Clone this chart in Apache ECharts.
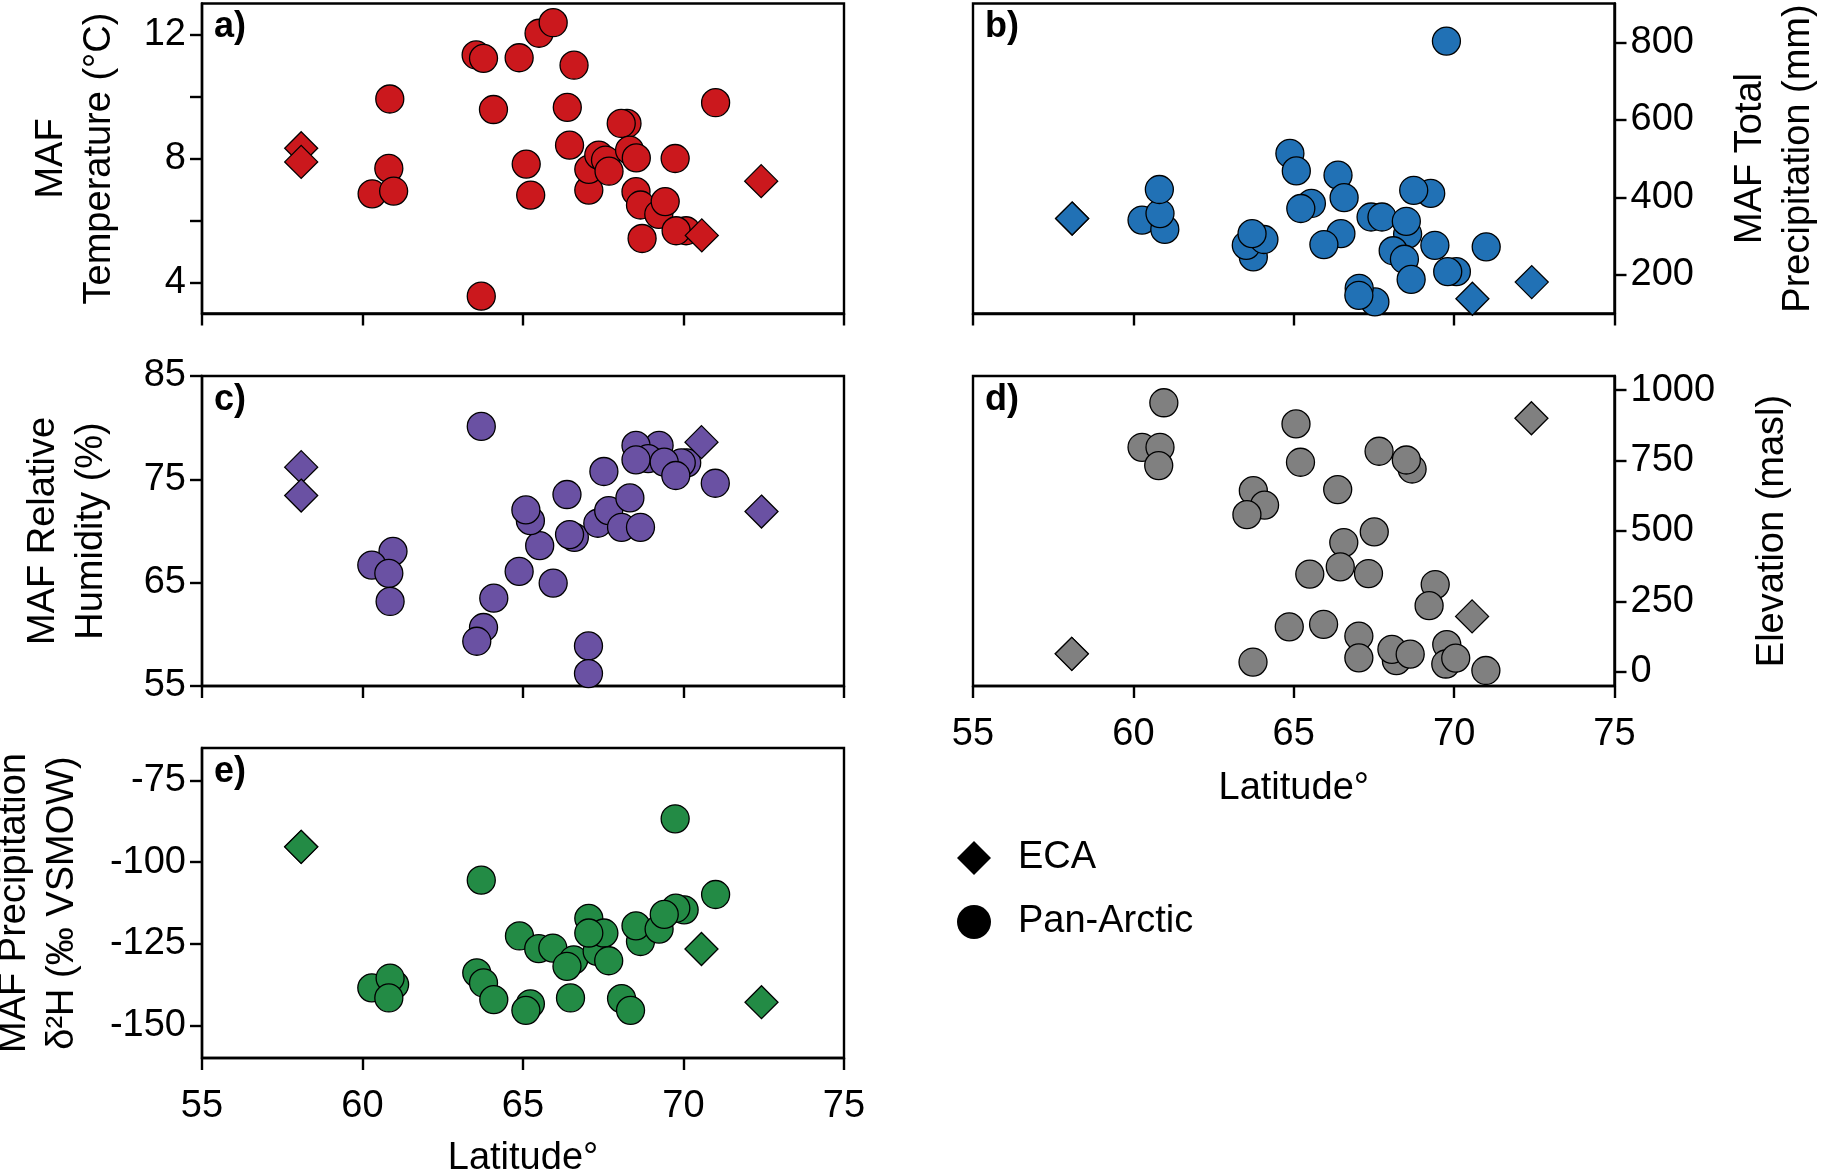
<!DOCTYPE html>
<html>
<head>
<meta charset="utf-8">
<script src="https://cdn.jsdelivr.net/npm/echarts@6/dist/echarts.min.js"></script>
<style>
html,body{margin:0;padding:0;background:#fff;}
#chart{width:1821px;height:1169px;}
</style>
</head>
<body>
<div id="chart"></div>
<script>
// ---- data: [latitude, value] ----
const tempPan = [[60.85,9.92],[60.82,7.68],[60.30,6.86],[60.97,6.95],[63.54,11.34],[63.77,11.23],[63.70,3.56],[64.08,9.58],[64.88,11.25],[65.10,7.82],[65.24,6.82],[65.50,12.04],[65.94,12.38],[66.59,11.01],[66.38,9.65],[66.45,8.43],[67.05,6.98],[67.05,7.65],[67.36,8.11],[67.57,7.95],[67.68,7.59],[68.24,9.13],[68.06,9.13],[68.32,8.27],[68.53,8.02],[68.52,6.93],[68.66,6.50],[68.71,5.42],[69.23,6.20],[69.43,6.61],[69.74,8.00],[70.08,5.67],[69.77,5.67],[71.00,9.80]];
const tempEca = [[58.09,8.33],[58.09,7.89],[70.57,5.52],[72.42,7.27]];

const precipPan = [[60.27,341],[60.98,317],[60.83,358],[60.81,420],[63.74,246],[63.52,276],[64.07,291],[63.70,306],[64.88,513],[65.08,468],[65.55,384],[65.22,371],[66.38,457],[66.57,399],[66.47,306],[65.94,278],[67.41,349],[67.75,349],[69.27,410],[68.74,418],[68.55,305],[68.51,338],[68.10,262],[68.45,240],[69.40,276],[68.66,188],[67.53,130],[67.04,165],[67.03,147],[69.76,803],[71.00,272],[70.07,208],[69.80,208]];
const precipEca = [[58.09,345],[58.09,345],[70.57,138],[72.42,181]];

const rhPan = [[63.70,80.12],[60.95,68.03],[60.29,66.70],[60.82,65.90],[60.86,63.18],[63.77,60.66],[63.56,59.33],[64.09,63.50],[64.88,66.09],[65.94,64.96],[65.52,68.58],[65.23,71.00],[65.09,72.04],[66.37,73.53],[66.60,69.39],[66.45,69.65],[67.04,58.88],[67.04,56.20],[67.52,75.76],[67.33,70.75],[67.67,71.97],[68.07,70.36],[68.66,70.36],[68.33,73.20],[69.24,78.28],[68.52,78.28],[68.90,77.00],[68.52,76.89],[70.10,76.60],[69.93,76.60],[69.40,76.66],[69.76,75.37],[70.99,74.62]];
const rhEca = [[58.09,76.18],[58.09,73.43],[70.56,78.60],[72.43,71.88]];

const elevPan = [[60.95,955],[60.27,797],[60.83,797],[60.79,732],[63.74,643],[64.09,592],[63.54,558],[65.07,880],[65.21,744],[66.37,647],[67.66,783],[68.69,720],[68.51,752],[66.56,459],[67.51,497],[65.50,347],[66.45,373],[67.33,349],[69.41,310],[69.22,235],[64.86,160],[65.93,169],[67.03,127],[67.03,50],[63.73,35],[68.20,40],[68.06,80],[68.63,63],[69.77,97],[69.74,28],[70.05,49],[70.99,5]];
const elevEca = [[58.08,64],[58.08,64],[70.56,197],[72.41,900]];

const d2hPan = [[63.70,-105.5],[60.29,-138.5],[61.00,-137.5],[60.86,-135.5],[60.82,-141.6],[63.56,-133.9],[63.77,-137.0],[64.09,-142.1],[64.89,-122.6],[65.49,-126.5],[65.93,-126.3],[66.58,-129.9],[66.37,-131.9],[65.23,-143.4],[65.09,-145.4],[66.48,-141.6],[67.05,-117.2],[67.31,-127.3],[67.52,-121.7],[67.05,-121.7],[67.67,-130.2],[68.07,-141.8],[68.35,-145.4],[68.66,-124.3],[68.52,-119.5],[69.24,-120.5],[70.02,-114.6],[69.76,-114.1],[69.40,-116.0],[69.74,-86.7],[71.00,-109.9]];
const d2hEca = [[58.09,-95.3],[58.09,-95.3],[70.56,-126.6],[72.43,-142.9]];

const latTicks = [55, 60, 65, 70, 75];
const panelLabels = ['a)', 'b)', 'c)', 'd)', 'e)'];
const legendNames = ['ECA', 'Pan-Arctic'];

// ---- layout/style ----
const FONT = 'Liberation Sans';
const FS = 38;
const colors = ['#CB181D', '#2171B5', '#6A51A3', '#808080', '#238B45'];
const grids = [
  {left: 202, top: 3.5, width: 642, height: 310},
  {left: 973, top: 3.5, width: 641.5, height: 310},
  {left: 202, top: 376, width: 642, height: 310},
  {left: 973, top: 376, width: 641.5, height: 310},
  {left: 202, top: 748, width: 642, height: 310}
];
const yCfg = [
  {min: 3, max: 13, ticks: [4,6,8,10,12], labels: [4,8,12], pos: 'left', name: 'MAF\nTemperature (°C)', gap: 78},
  {min: 100, max: 900, ticks: [200,400,600,800], labels: [200,400,600,800], pos: 'right', name: 'MAF Total\nPrecipitation (mm)', gap: 112},
  {min: 55, max: 85, ticks: [55,65,75,85], labels: [55,65,75,85], pos: 'left', name: 'MAF Relative\nHumidity (%)', gap: 86},
  {min: -50, max: 1050, ticks: [0,250,500,750,1000], labels: [0,250,500,750,1000], pos: 'right', name: 'Elevation (masl)', gap: 134},
  {min: -160, max: -65, ticks: [-150,-125,-100,-75], labels: [-150,-125,-100,-75], pos: 'left', name: 'MAF Precipitation\nδ²H (‰ VSMOW)', gap: 115}
];
const showXLabels = [false, false, false, true, true];
const xNameGap = [0, 0, 0, 84, 82];
const panData = [tempPan, precipPan, rhPan, elevPan, d2hPan];
const ecaData = [tempEca, precipEca, rhEca, elevEca, d2hEca];

const tickStyle = {show: true, length: 12, lineStyle: {color: '#000', width: 2.4}};

const option = {
  backgroundColor: '#fff',
  animation: false,
  textStyle: {fontFamily: FONT},
  title: panelLabels.map((t, i) => ({
    text: t,
    left: grids[i].left + 12,
    top: grids[i].top + 6,
    padding: 0,
    textStyle: {fontFamily: FONT, fontWeight: 'bold', fontSize: 36, color: '#000'}
  })),
  grid: grids.map(g => Object.assign({show: true, borderColor: '#000', borderWidth: 2.4, backgroundColor: '#fff', containLabel: false, outerBoundsMode: 'none'}, g)),
  xAxis: grids.map((g, i) => ({
    type: 'value', gridIndex: i, min: 55, max: 75, interval: 5,
    name: showXLabels[i] ? 'Latitude°' : '',
    nameLocation: 'middle', nameGap: xNameGap[i],
    nameTextStyle: {fontFamily: FONT, fontSize: FS, color: '#000'},
    axisLine: {show: true, onZero: false, lineStyle: {color: '#000', width: 2.4}},
    axisTick: tickStyle,
    axisLabel: {show: showXLabels[i], fontFamily: FONT, fontSize: FS, color: '#000', margin: 30, formatter: v => String(v)},
    splitLine: {show: false}
  })),
  yAxis: yCfg.map((c, i) => ({
    type: 'value', gridIndex: i, min: c.min, max: c.max, position: c.pos,
    name: c.name, nameLocation: 'middle', nameGap: c.gap, nameRotate: 90,
    nameTextStyle: {fontFamily: FONT, fontSize: FS, color: '#000', lineHeight: 48},
    axisLine: {show: true, onZero: false, lineStyle: {color: '#000', width: 2.4}},
    axisTick: Object.assign({customValues: c.ticks}, tickStyle),
    axisLabel: {customValues: c.labels, fontFamily: FONT, fontSize: FS, color: '#000', margin: 16, formatter: v => String(v)},
    splitLine: {show: false}
  })),
  legend: {
    orient: 'vertical', left: 952, top: 834, itemWidth: 34, itemHeight: 34, itemGap: 26,
    itemStyle: {color: '#000', opacity: 1, borderWidth: 0},
    data: [
      {name: legendNames[0], icon: 'diamond', itemStyle: {color: '#000', opacity: 1, borderWidth: 0}},
      {name: legendNames[1], icon: 'circle', itemStyle: {color: '#000', opacity: 1, borderWidth: 0}}
    ],
    textStyle: {fontFamily: FONT, fontSize: FS, color: '#000', padding: [0, 0, 0, 22]}
  },
  series: []
};

for (let i = 0; i < 5; i++) {
  option.series.push({
    type: 'scatter', xAxisIndex: i, yAxisIndex: i, data: panData[i],
    symbol: 'circle', symbolSize: 28,
    itemStyle: {color: colors[i], borderColor: '#000', borderWidth: 1.3, opacity: 1},
    z: 2
  });
  option.series.push({
    type: 'scatter', xAxisIndex: i, yAxisIndex: i, data: ecaData[i],
    symbol: 'diamond', symbolSize: 33,
    itemStyle: {color: colors[i], borderColor: '#000', borderWidth: 1.3, opacity: 1},
    z: 3
  });
}
// legend-only series (black markers)
option.series.push({type: 'scatter', name: legendNames[0], xAxisIndex: 4, yAxisIndex: 4, data: [], symbol: 'diamond', itemStyle: {color: '#000', opacity: 1}});
option.series.push({type: 'scatter', name: legendNames[1], xAxisIndex: 4, yAxisIndex: 4, data: [], symbol: 'circle', itemStyle: {color: '#000', opacity: 1}});

const chart = echarts.init(document.getElementById('chart'), null, {renderer: 'canvas'});
chart.setOption(option);
</script>
</body>
</html>
